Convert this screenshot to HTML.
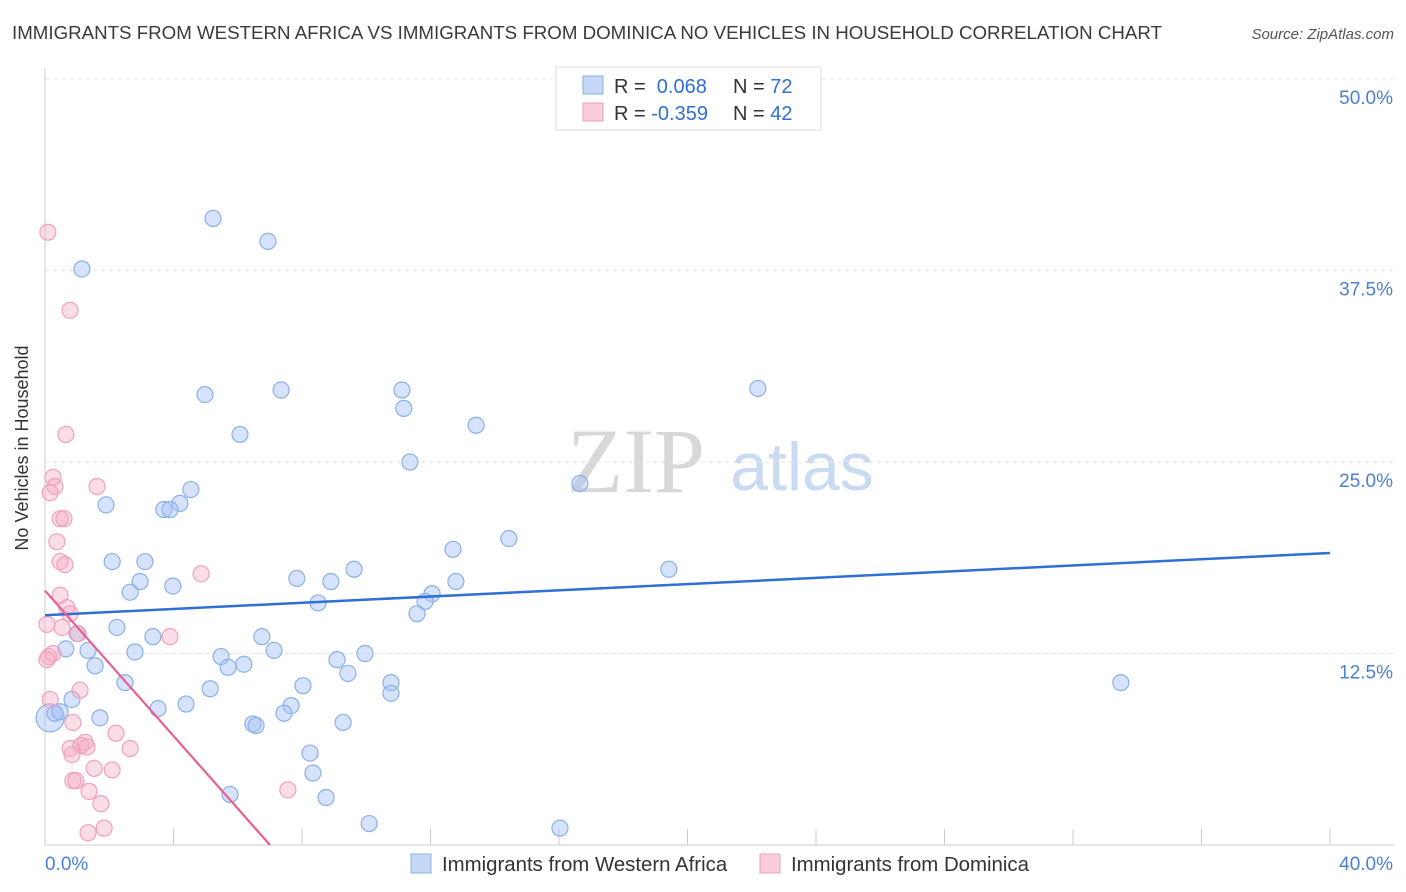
<!DOCTYPE html>
<html><head><meta charset="utf-8"><style>
body{margin:0;background:#fff;font-family:"Liberation Sans",sans-serif;}
svg{display:block}
</style></head><body>
<svg id="chart" width="1406" height="892">
<text x="12" y="39" font-size="18.5" fill="#3a3a3a" textLength="1150" lengthAdjust="spacingAndGlyphs">IMMIGRANTS FROM WESTERN AFRICA VS IMMIGRANTS FROM DOMINICA NO VEHICLES IN HOUSEHOLD CORRELATION CHART</text>
<text x="1394" y="39" font-size="15" fill="#555" text-anchor="end" font-style="italic">Source: ZipAtlas.com</text>
<text x="636" y="492" font-size="92" fill="#d8d8d8" font-family="Liberation Serif" text-anchor="middle">ZIP</text>
<text x="802" y="490" font-size="68" fill="#c9daf3" text-anchor="middle">atlas</text>
<g id="grid"></g>
<g id="axes"></g>
<g id="pts"></g>
<g id="trend"></g>
<text x="36" y="456" font-size="18" fill="#333" text-anchor="middle" transform="rotate(-90 28 456)">No Vehicles in Household</text>
<g>
<rect x="556" y="67" width="265" height="63" fill="#fff" stroke="#ddd"/>
<rect x="583" y="76" width="20" height="18" fill="#c5d8f6" stroke="#8ab0e8"/>
<rect x="583" y="103" width="20" height="18" fill="#f9cdda" stroke="#f0a0bb"/>
<text x="614" y="93" font-size="20" fill="#333">R = <tspan fill="#2f6fd6">&#160;0.068</tspan><tspan x="733">N = </tspan><tspan fill="#2f6fd6">72</tspan></text>
<text x="614" y="120" font-size="20" fill="#333">R = <tspan fill="#2f6fd6">-0.359</tspan><tspan x="733">N = </tspan><tspan fill="#2f6fd6">42</tspan></text>
</g>
<g>
<rect x="411" y="854" width="20" height="19" fill="#c5d8f6" stroke="#8ab0e8"/>
<text x="442" y="871" font-size="20.4" fill="#333">Immigrants from Western Africa</text>
<rect x="760" y="854" width="20" height="19" fill="#f9cdda" stroke="#f0a0bb"/>
<text x="791" y="871" font-size="20.4" fill="#333">Immigrants from Dominica</text>
</g>
</svg>
<script>
const blueX=[0.16,0.31,0.47,0.84,1.15,5.23,6.94,4.98,7.35,11.11,11.17,13.42,6.07,11.36,22.19,16.65,1.90,4.54,4.20,3.70,3.89,2.09,3.11,2.96,2.65,3.98,7.84,8.90,9.62,12.70,14.44,12.79,12.05,11.83,8.50,11.58,19.42,2.24,3.36,1.00,0.65,1.34,1.56,2.80,6.75,7.13,5.48,5.70,6.19,9.09,9.96,9.43,2.49,5.14,8.03,10.77,10.77,33.49,1.71,3.52,4.39,7.66,7.44,6.47,6.57,9.28,8.25,8.34,8.75,5.76,10.09,16.03];
const blueY=[8.3,8.6,8.7,9.5,37.6,40.9,39.4,29.4,29.7,29.7,28.5,27.4,26.8,25.0,29.8,23.6,22.2,23.2,22.3,21.9,21.9,18.5,18.5,17.2,16.5,16.9,17.4,17.2,18.0,19.3,20.0,17.2,16.4,15.9,15.8,15.1,18.0,14.2,13.6,13.8,12.8,12.7,11.7,12.6,13.6,12.7,12.3,11.6,11.8,12.1,12.5,11.2,10.6,10.2,10.4,10.6,9.9,10.6,8.3,8.9,9.2,9.1,8.6,7.9,7.8,8.0,6.0,4.7,3.1,3.3,1.4,1.1];
const pinkX=[0.09,0.78,0.65,0.25,0.31,0.16,1.62,0.47,0.59,0.37,0.47,0.62,4.86,0.47,0.68,0.78,0.06,0.53,1.03,3.89,0.12,0.25,0.06,1.09,0.87,2.21,1.12,1.25,0.78,1.31,2.65,0.84,1.53,2.09,0.96,0.87,1.37,1.74,7.56,1.84,1.34,0.16];
const pinkY=[40.0,34.9,26.8,24.0,23.4,23.0,23.4,21.3,21.3,19.8,18.5,18.3,17.7,16.3,15.5,15.1,14.4,14.2,13.8,13.6,12.3,12.5,12.1,10.1,8.0,7.3,6.5,6.7,6.3,6.4,6.3,5.9,5.0,4.9,4.2,4.2,3.5,2.7,3.6,1.1,0.8,9.5];
const blueTrend=[15.0,19.06]; // y at x=0 and x=40
const pinkTrend=[16.6,-2.37]; // intercept, slope
const yTicks=[12.5,25.0,37.5,50.0];
const yTickLabels=["12.5%","25.0%","37.5%","50.0%"];
const xTicks=[0,4,8,12,16,20,24,28,32,36,40];
const NS="http://www.w3.org/2000/svg";
const X=v=>45+v*32.125, Y=v=>845-v*15.32;
function mk(t,a,p){const e=document.createElementNS(NS,t);for(const k in a)e.setAttribute(k,a[k]);p.appendChild(e);return e;}
const grid=document.getElementById('grid'),axes=document.getElementById('axes'),pts=document.getElementById('pts'),tr=document.getElementById('trend');
yTicks.forEach((v,i)=>{
 const l=mk('line',{x1:45,x2:1394,y1:Y(v),y2:Y(v),stroke:'#e3e3e3','stroke-dasharray':'4,4'},grid);
 
 
 const t=mk('text',{x:1393,y:Y(v)+25,'font-size':19,fill:'#4a7fd4','text-anchor':'end'},axes);
 t.textContent=yTickLabels[i];
 
 
});
mk('line',{x1:45,x2:45,y1:68,y2:845,stroke:'#ccc'},axes);
mk('line',{x1:45,x2:1394,y1:845,y2:845,stroke:'#ccc'},axes);
xTicks.forEach(v=>{
 const l=mk('line',{x1:X(v),x2:X(v),y1:829,y2:845,stroke:'#ccc'},axes);
 
 
});
let t=mk('text',{x:45,y:870,'font-size':19,fill:'#4a7fd4'},axes);t.textContent='0.0%';


t=mk('text',{x:1393,y:870,'font-size':19,fill:'#4a7fd4','text-anchor':'end'},axes);t.textContent='40.0%';


blueX.forEach((v,i)=>{
 const c=mk('circle',{cx:X(v),cy:Y(blueY[i]),r:i==0?14:8,fill:'rgba(164,194,244,0.45)',stroke:'#8ab0e8','stroke-width':1.2},pts);
 
 
});
pinkX.forEach((v,i)=>{
 const c=mk('circle',{cx:X(v),cy:Y(pinkY[i]),r:8,fill:'rgba(246,170,195,0.4)',stroke:'#f0a0bb','stroke-width':1.2},pts);
 
 
});
let ln=mk('line',{x1:X(0),y1:Y(blueTrend[0]),x2:X(40),y2:Y(blueTrend[1]),stroke:'#2f6fd6','stroke-width':2.5},tr);


const pEnd=-pinkTrend[0]/pinkTrend[1];
ln=mk('line',{x1:X(0),y1:Y(pinkTrend[0]),x2:X(pEnd),y2:Y(0),stroke:'#e8608f','stroke-width':2.2},tr);


</script>
</body></html>
